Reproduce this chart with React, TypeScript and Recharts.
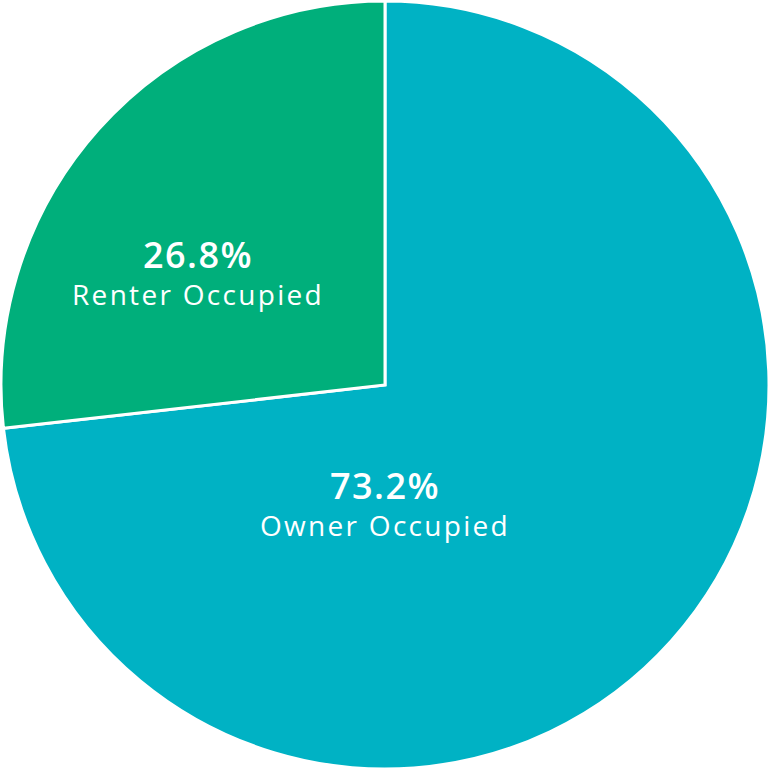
import React from 'react';
import { PieChart, Pie, Cell } from 'recharts';

const categories = ['Owner Occupied', 'Renter Occupied'];
const shares = [73.2, 26.8];
const colors = ['#00B2C4', '#00AF7B'];

// label anchor offsets from pie centre (percent baseline)
const labelOffsets = [
    { dx: 0, dy: 114, gap: 37 },
    { dx: -187, dy: -117, gap: 37 },
];

const data = categories.map((name, i) => ({ name, value: shares[i] }));

const renderLabel = (props: any) => {
    const { cx, cy, index, value, name } = props;
    const off = labelOffsets[index];
    const x = cx + off.dx;
    const y = cy + off.dy;
    return (
        <g>
            <text
                x={x}
                y={y}
                textAnchor="middle"
                fill="#fff"
                fontFamily="'Open Sans', sans-serif"
                fontWeight={600}
                fontSize={36}
                letterSpacing={1.5}
            >
                {`${value.toFixed(1)}%`}
            </text>
            <text
                x={x}
                y={y + off.gap}
                textAnchor="middle"
                fill="#fff"
                fontFamily="'Open Sans', sans-serif"
                fontSize={28}
                letterSpacing={2.3}
            >
                {name}
            </text>
        </g>
    );
};

export default function App() {
    return (
        <div style={{ position: 'absolute', top: 0, left: 0, width: 770, height: 770, background: '#fff' }}>
            <PieChart width={770} height={770} margin={{ top: 0, right: 0, bottom: 0, left: 0 }}>
                <Pie
                    data={data}
                    dataKey="value"
                    nameKey="name"
                    cx={385}
                    cy={385}
                    innerRadius={0}
                    outerRadius={384}
                    startAngle={90}
                    endAngle={-270}
                    stroke="#fff"
                    strokeWidth={3}
                    label={renderLabel}
                    labelLine={false}
                    isAnimationActive={false}
                >
                    {data.map((entry, index) => (
                        <Cell key={`cell-${index}`} fill={colors[index]} />
                    ))}
                </Pie>
            </PieChart>
        </div>
    );
}
